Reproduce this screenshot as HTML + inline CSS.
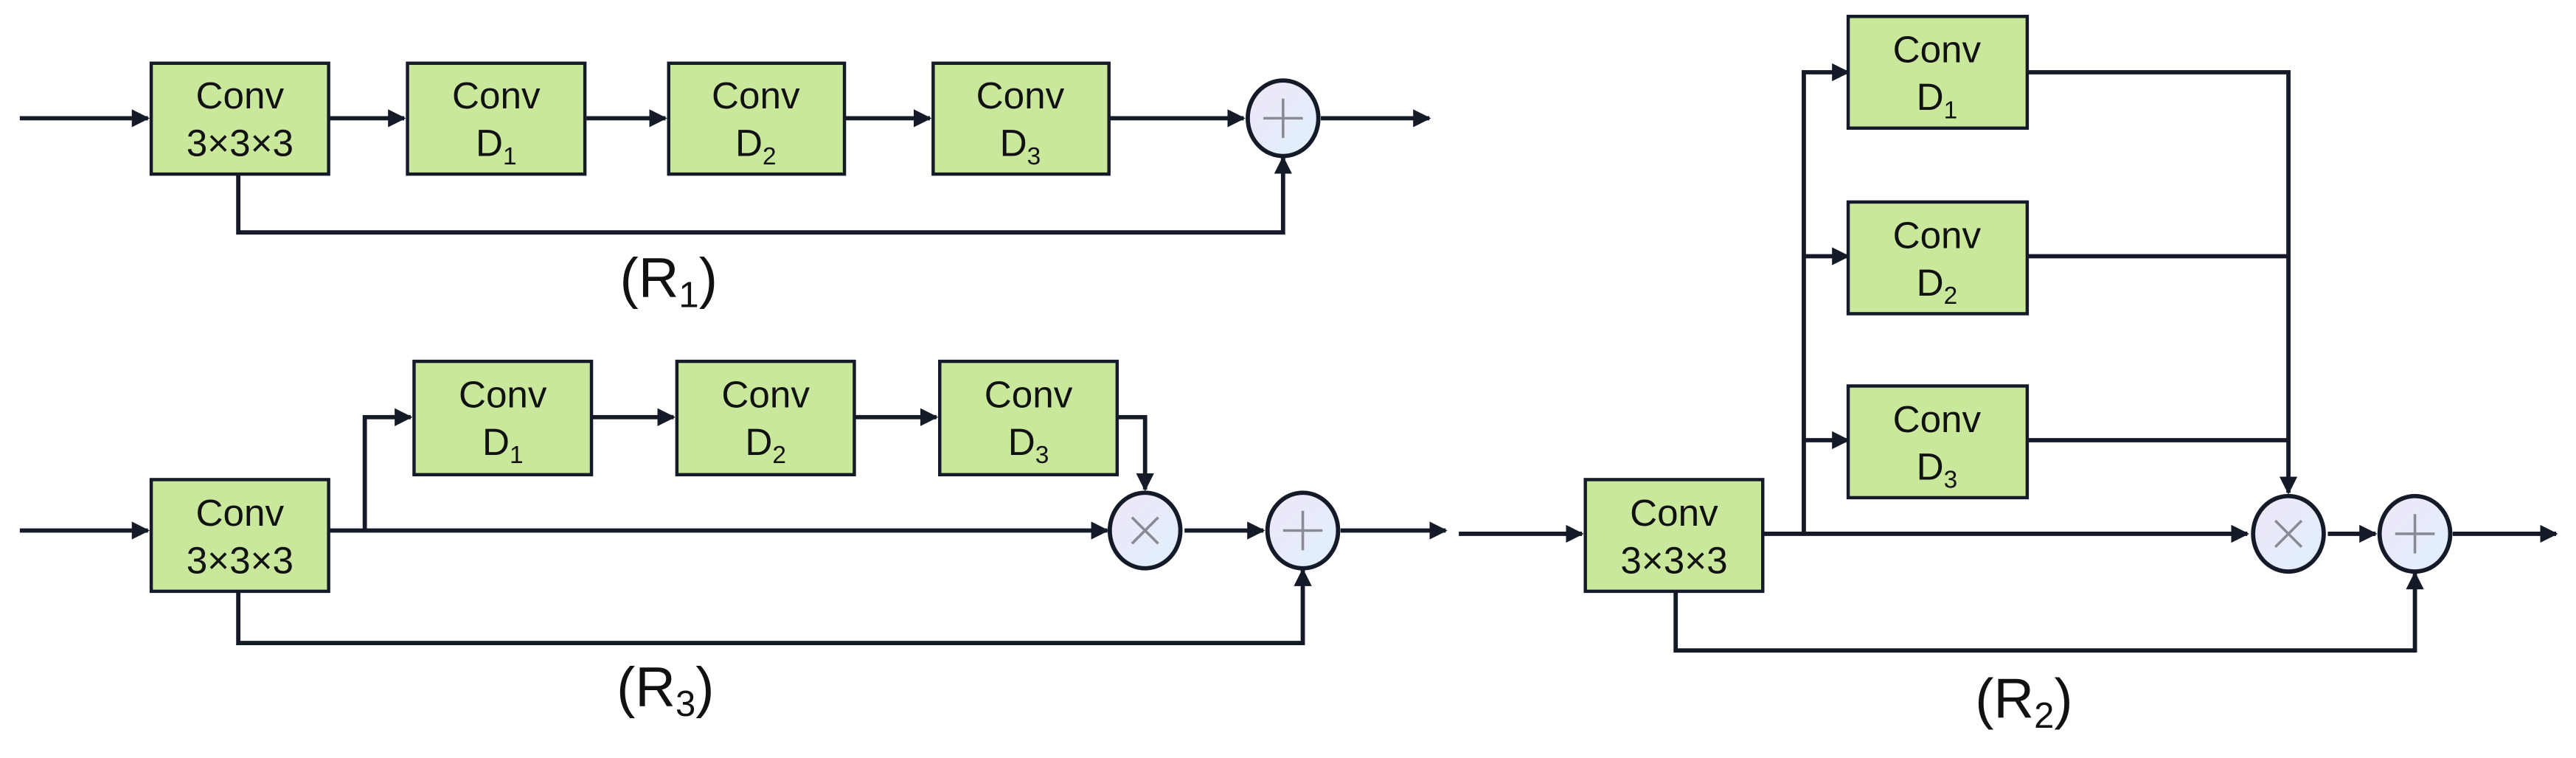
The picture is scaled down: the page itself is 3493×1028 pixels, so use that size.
<!DOCTYPE html>
<html><head><meta charset="utf-8"><style>html,body{margin:0;padding:0;background:#fff;}svg{display:block;}</style></head>
<body>
<svg width="3493" height="1028" viewBox="0 0 1568 461.5" xmlns="http://www.w3.org/2000/svg" font-family="Liberation Sans, Arial, sans-serif">
<defs>
<marker id="a" viewBox="0 0 10 10" refX="9" refY="5" markerWidth="4.2" markerHeight="4.2" orient="auto" markerUnits="strokeWidth"><path d="M0,0 L10,5 L0,10 z" fill="#151a28"/></marker>
<linearGradient id="g" x1="0" y1="0" x2="1" y2="1"><stop offset="0" stop-color="#efe6f8"/><stop offset="1" stop-color="#dff0fb"/></linearGradient>
</defs>
<g stroke="#151a28" stroke-width="2.6" fill="none">
<!-- R1 -->
<path d="M12,72 H90" marker-end="url(#a)"/>
<path d="M200,72 H246" marker-end="url(#a)"/>
<path d="M357,72 H405" marker-end="url(#a)"/>
<path d="M513,72 H566" marker-end="url(#a)"/>
<path d="M675,72 H757" marker-end="url(#a)"/>
<path d="M804,72 H870" marker-end="url(#a)"/>
<path d="M145,106 V141.5 H781 V96" marker-end="url(#a)"/>
<!-- R3 -->
<path d="M12,323 H90" marker-end="url(#a)"/>
<path d="M200,323 H674" marker-end="url(#a)"/>
<path d="M222,323 V254 H250" marker-end="url(#a)"/>
<path d="M360,254 H410" marker-end="url(#a)"/>
<path d="M520,254 H570" marker-end="url(#a)"/>
<path d="M680,254 H697 V298" marker-end="url(#a)"/>
<path d="M721,323 H769" marker-end="url(#a)"/>
<path d="M816,323 H880" marker-end="url(#a)"/>
<path d="M145,360 V391.5 H793 V347" marker-end="url(#a)"/>
<!-- R2 -->
<path d="M888,325 H963" marker-end="url(#a)"/>
<path d="M1073,325 H1368" marker-end="url(#a)"/>
<path d="M1098,325 V44 H1125" marker-end="url(#a)"/>
<path d="M1098,156 H1125" marker-end="url(#a)"/>
<path d="M1098,268 H1125" marker-end="url(#a)"/>
<path d="M1234,44 H1393 V300" marker-end="url(#a)"/>
<path d="M1234,156 H1393"/>
<path d="M1234,268 H1393"/>
<path d="M1417,325 H1446" marker-end="url(#a)"/>
<path d="M1493,325 H1556" marker-end="url(#a)"/>
<path d="M1020,360 V396 H1470 V349" marker-end="url(#a)"/>
</g>
<g fill="#c9e89c" stroke="#151a28" stroke-width="2">
<rect x="92" y="38.5" width="108" height="67.5"/>
<rect x="248" y="38.5" width="108" height="67.5"/>
<rect x="407" y="38.5" width="107" height="67.5"/>
<rect x="568" y="38.5" width="107" height="67.5"/>
<rect x="92" y="292" width="108" height="68"/>
<rect x="252" y="220" width="108" height="69"/>
<rect x="412" y="220" width="108" height="69"/>
<rect x="572" y="220" width="108" height="69"/>
<rect x="965" y="292" width="108" height="68"/>
<rect x="1125" y="10" width="109" height="68"/>
<rect x="1125" y="123" width="109" height="68"/>
<rect x="1125" y="235" width="109" height="68"/>
</g>
<g fill="url(#g)" stroke="#151a28" stroke-width="2.6">
<ellipse cx="781" cy="72" rx="21.5" ry="23"/>
<ellipse cx="697" cy="323" rx="21.5" ry="23"/>
<ellipse cx="793" cy="323" rx="21.5" ry="23"/>
<ellipse cx="1393" cy="325" rx="21.5" ry="23"/>
<ellipse cx="1470" cy="325" rx="21.5" ry="23"/>
</g>
<g stroke="#8a8a96" stroke-width="1.6">
<path d="M769,72 H793 M781,60 V84"/>
<path d="M781,323 H805 M793,311 V335"/>
<path d="M1458,325 H1482 M1470,313 V337"/>
<path d="M689,315 L705,331 M705,315 L689,331"/>
<path d="M1385,317 L1401,333 M1401,317 L1385,333"/>
</g>
<g font-size="23" fill="#111" text-anchor="middle">
<text x="146" y="66">Conv</text><text x="146" y="95">3×3×3</text>
<text x="302" y="66">Conv</text><text x="302" y="95">D<tspan font-size="15" dy="5">1</tspan></text>
<text x="460" y="66">Conv</text><text x="460" y="95">D<tspan font-size="15" dy="5">2</tspan></text>
<text x="621" y="66">Conv</text><text x="621" y="95">D<tspan font-size="15" dy="5">3</tspan></text>
<text x="146" y="320">Conv</text><text x="146" y="349">3×3×3</text>
<text x="306" y="248">Conv</text><text x="306" y="277">D<tspan font-size="15" dy="5">1</tspan></text>
<text x="466" y="248">Conv</text><text x="466" y="277">D<tspan font-size="15" dy="5">2</tspan></text>
<text x="626" y="248">Conv</text><text x="626" y="277">D<tspan font-size="15" dy="5">3</tspan></text>
<text x="1019" y="320">Conv</text><text x="1019" y="349">3×3×3</text>
<text x="1179" y="38">Conv</text><text x="1179" y="67">D<tspan font-size="15" dy="5">1</tspan></text>
<text x="1179" y="151">Conv</text><text x="1179" y="180">D<tspan font-size="15" dy="5">2</tspan></text>
<text x="1179" y="263">Conv</text><text x="1179" y="292">D<tspan font-size="15" dy="5">3</tspan></text>
</g>
<g font-size="34" fill="#111" text-anchor="middle">
<text x="407" y="181">(R<tspan font-size="22" dy="6">1</tspan><tspan dy="-6">)</tspan></text>
<text x="405" y="430">(R<tspan font-size="22" dy="6">3</tspan><tspan dy="-6">)</tspan></text>
<text x="1232" y="437">(R<tspan font-size="22" dy="6">2</tspan><tspan dy="-6">)</tspan></text>
</g>
</svg>
</body></html>
